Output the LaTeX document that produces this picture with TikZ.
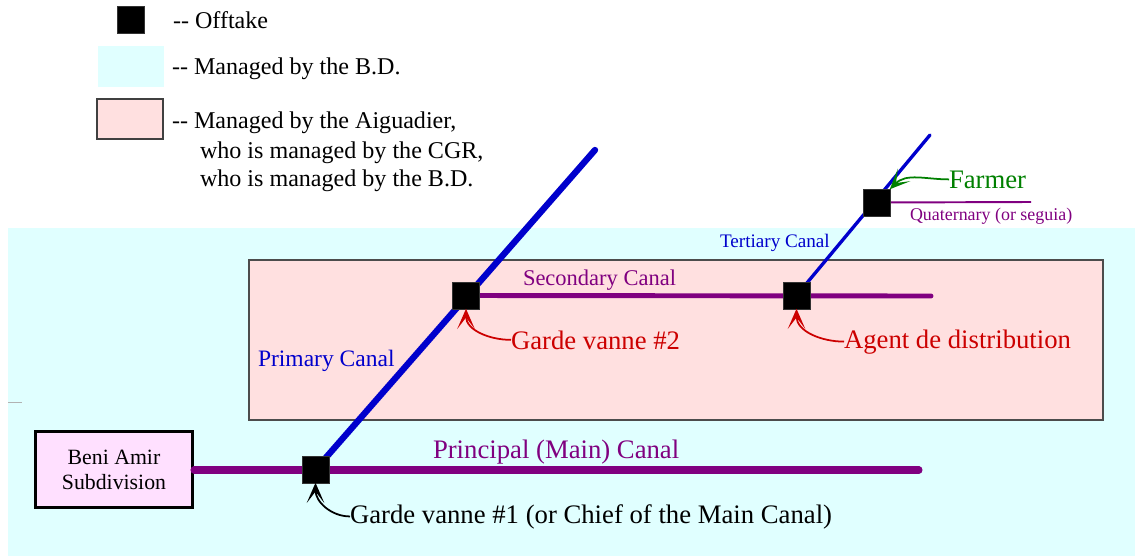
\documentclass[tikz,border=0pt]{standalone}
\usepackage{fontspec}
\setmainfont{Liberation Serif}
\usetikzlibrary{arrows.meta}
\definecolor{bdcyan}{HTML}{E0FFFF}
\definecolor{aigpink}{HTML}{FFE0E0}
\definecolor{benifill}{HTML}{FFE0FF}
\definecolor{canalpurple}{HTML}{800080}
\definecolor{canalblue}{HTML}{0000CC}
\definecolor{labred}{HTML}{CC0000}
\definecolor{labgreen}{HTML}{008000}
\newcommand{\fsz}[2]{\fontsize{#1pt}{#2pt}\selectfont}
\begin{document}
\begin{tikzpicture}[x=0.02cm,y=0.02cm,
  offtake/.style={fill=black, draw=black!80, line width=0.3pt, minimum size=15.1pt, inner sep=0pt, outer sep=0pt},
  lbl/.style={inner sep=0pt, outer sep=0pt, anchor=base west},
  big/.style={font=\fsz{15.2}{18}},
  legendtext/.style={font=\fsz{13.7}{16}},
  arr/.style={-{Stealth[length=11.5pt,width=10pt,inset=6.5pt]}, line width=1pt},
  principal/.style={draw=canalpurple, line width=4pt, line cap=round},
  primary/.style={draw=canalblue, line width=3.6pt, line cap=round},
  secondary/.style={draw=canalpurple, line width=2.8pt, line cap=round},
  tertiary/.style={draw=canalblue, line width=1.9pt, line cap=round},
  quaternary/.style={draw=canalpurple, line width=1.1pt},
  subdiv/.style={draw=black, fill=benifill, line width=1.7pt, minimum width=3.14cm, minimum height=1.52cm, align=center, font=\fsz{12.4}{14.2}, inner sep=0pt}
]
\useasboundingbox (0,0) rectangle (1135,-558);

% ---- legend ----
\node[offtake] (legsq) at (130.5,-19.5) {};
\node[lbl, legendtext] (legoff) at (173,-28) {-{}- Offtake};
\fill[bdcyan] (98,-46) rectangle (164,-87);
\node[lbl, legendtext] (legbd) at (172,-74) {-{}- Managed by the B.D.};
\filldraw[fill=aigpink, draw=black!75, line width=0.6pt] (97,-99) rectangle (163,-139);
\node[lbl, legendtext] (legaig1) at (172,-128) {-{}- Managed by the Aiguadier,};
\node[lbl, legendtext] (legaig2) at (200,-158) {who is managed by the CGR,};
\node[lbl, legendtext] (legaig3) at (200,-186) {who is managed by the B.D.};

% ---- areas ----
\fill[bdcyan] (8,-228) rectangle (1135,-556);
\draw[gray!60, line width=0.5pt] (8,-402) -- (22,-402);
\filldraw[fill=aigpink, draw=black!70, line width=0.8pt] (249,-260) rectangle (1103,-420);

% ---- canal geometry ----
\coordinate (c1) at (315.5,-469.5);
\coordinate (c2) at (466,-295.5);
\coordinate (c3) at (796.5,-295.5);
\coordinate (c4) at (876.5,-202.5);
\coordinate (prinend) at (919,-470);
\coordinate (primend) at (595,-150);
\coordinate (secend) at (931,-296);
\coordinate (terend) at (930,-135);
\coordinate (quatend) at (1031,-202);

\node[subdiv] (beni) at (114,-469.5) {Beni Amir\\Subdivision};

\draw[principal] (beni.east |- prinend) -- (prinend);
\draw[primary] (c1) -- (primend);
\draw[secondary] (c2) -- (secend);
\draw[tertiary] (c3) -- (terend);
\draw[quaternary] (c4) -- (quatend);

\node[offtake] (o1) at (c1) {};
\node[offtake] (o2) at (c2) {};
\node[offtake] (o3) at (c3) {};
\node[offtake] (o4) at (c4) {};

% ---- canal labels ----
\node[lbl, big, text=canalpurple] (lprin) at (433,-458) {Principal (Main) Canal};
\node[lbl, font=\fsz{13.4}{16}, text=canalblue] (lprim) at (258,-366) {Primary Canal};
\node[lbl, font=\fsz{12.8}{15}, text=canalpurple] (lsec) at (523,-285) {Secondary Canal};
\node[lbl, font=\fsz{10.9}{13}, text=canalblue] (lter) at (720,-247) {Tertiary Canal};
\node[lbl, font=\fsz{10.2}{12}, text=canalpurple] (lquat) at (910,-220) {Quaternary (or seguia)};

% ---- people ----
\node[lbl, big, text=black] (gv1) at (350,-523) {Garde vanne \#1 (or Chief of the Main Canal)};
\node[lbl, big, text=labred] (gv2) at (511,-349) {Garde vanne \#2};
\node[lbl, big, text=labred] (agent) at (844,-348) {Agent de distribution};
\node[lbl, big, text=labgreen] (farmer) at (949,-188) {Farmer};

\draw[arr, black] (gv1.west) to[out=180, in=-90] (o1.south);
\draw[arr, labred] (gv2.west) to[out=180, in=-90] (o2.south);
\draw[arr, labred] (agent.west) to[out=180, in=-90] (o3.south);
\draw[arr, labgreen] (farmer.west) to[out=180, in=45] (o4.north east);
\end{tikzpicture}
\end{document}
